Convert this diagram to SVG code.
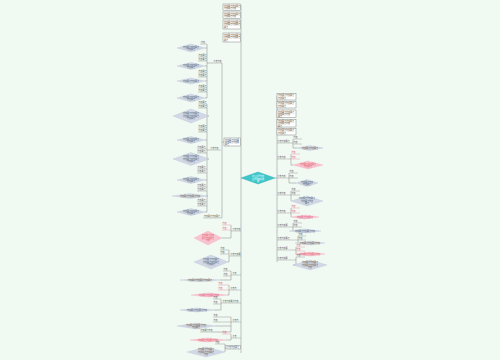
<svg xmlns="http://www.w3.org/2000/svg" width="500" height="360" viewBox="0 0 500 360">
<style>
.bg{fill:#f0f9f2}
.ln{stroke:#8a8a8a;stroke-width:0.5;fill:none}
.ul{stroke:#888;stroke-width:0.4}
.ulp{stroke:#e88aa0;stroke-width:0.4}
.g{fill:#d2d8e6;stroke:#b4bccf;stroke-width:0.3}
.p{fill:#f8c4d0;stroke:#f0a2b6;stroke-width:0.3}
.c{fill:#3fc6c9;stroke:#2aa9ad;stroke-width:0.4}
.bx{fill:#ffffff;stroke:#7a7a7a;stroke-width:0.45}
.t{font-family:"Noto Sans CJK SC","Liberation Sans",sans-serif;font-size:2px;fill:#555}
.tp{font-family:"Noto Sans CJK SC","Liberation Sans",sans-serif;font-size:2px;fill:#e0506e}
.tw{font-family:"Noto Sans CJK SC","Liberation Sans",sans-serif;font-size:2px;fill:#ffffff}
.tm{text-anchor:middle}
</style>
<rect class="bg" x="0" y="0" width="500" height="360"/>

<g id="connectors">
<path class="ln" d="M241,5V353"/>
<path class="ln" d="M275,178H277M277,96V262"/>
<path class="ln" d="M221,63H222V218M222,142H224"/>
<path class="ln" d="M213,63H207M207,44V98"/>
<path class="ln" d="M205,48H207M205,66H207M205,81H207M205,98H207"/>
<path class="ln" d="M210,150H207M207,104V212"/>
<path class="ln" d="M209,116H207M205,140H207M209,159H207M205,180H207M208,196H207M205,212H207"/>
<path class="ln" d="M232,231H231M231,225V238M222,238H231"/>
<path class="ln" d="M230,256H229M229,250V262M228,262H229"/>
<path class="ln" d="M232,275H231M231,271V280M220,280H231"/>
<path class="ln" d="M230,290H229M229,285V295M227,295H229"/>
<path class="ln" d="M222,303H221M221,299V310M214,310H221"/>
<path class="ln" d="M232,322H231M231,317V332M215,326H231M212,332H231"/>
<path class="ln" d="M232,338H231M231,334V340M226,340H231"/>
<path class="ln" d="M226,348H225M225,344V352"/>
<path class="ln" d="M292,143H293M293,139V148M297,148H293"/>
<path class="ln" d="M290,159H291M291,154V165M293,165H291"/>
<path class="ln" d="M288,178H289M289,173V183M296,183H289"/>
<path class="ln" d="M290,195H291M291,191V201"/>
<path class="ln" d="M290,213H291M291,208V217"/>
<path class="ln" d="M292,227H293M293,223V231"/>
<path class="ln" d="M297,240H298M298,236V243"/>
<path class="ln" d="M295,250H296M296,247V254"/>
<path class="ln" d="M295,260H296M296,257V265H293"/>
</g>

<g id="center">
<polygon class="c" points="241,178 258,172 275,178 258,184"/>
<text class="tw tm" x="258" y="177">中心主题内容</text>
<text class="tw tm" x="258" y="179.5">主题内容总结</text>
<text class="tw tm" x="258" y="182">要</text>
</g>

<g id="lbox1"><rect class="bx" x="223" y="4" width="17.5" height="6.5"/><text class="t" x="224" y="6.9">内容要点内容要点</text><text class="t" x="224" y="9.3">内容要点内容</text></g>
<g id="lbox2"><rect class="bx" x="223" y="12" width="17.5" height="6.5"/><text class="t" x="224" y="14.9">内容要点内容要点</text><text class="t" x="224" y="17.3">内容要点内容</text></g>
<g id="lbox3"><rect class="bx" x="223" y="20" width="17.5" height="9"/><text class="t" x="224" y="22.8">内容要点内容要点</text><text class="t" x="224" y="25.2">内容要点内容要点</text><text class="t" x="224" y="27.6">要点</text></g>
<g id="lbox4"><rect class="bx" x="223" y="33" width="17.5" height="9"/><text class="t" x="224" y="35.8">内容要点内容要点</text><text class="t" x="224" y="38.2">内容要点内容要点</text><text class="t" x="224" y="40.6">要点</text></g>
<g id="lboxC"><rect class="bx" x="224" y="138" width="16.5" height="8"/><text class="t" x="225" y="140.6">内容要点内容要</text><text class="t" x="225" y="142.8">内容要点内容要</text><text class="t" x="225" y="145">要点</text></g>

<g id="nodeA"><text class="t" x="213.5" y="62.3">分支内容</text><line class="ul" x1="213" y1="63" x2="221" y2="63"/></g>
<g id="a1"><text class="t" x="201" y="43.4">内容</text><line class="ul" x1="200" y1="44" x2="207" y2="44"/><polygon class="g" points="177,48 191,44 205,48 191,52"/><text class="t tm" x="191" y="47.6">内容要点内容要点</text><text class="t tm" x="191" y="49.8">内容要点</text></g>
<g id="a2"><text class="t" x="198.5" y="56.4">内容要点</text><line class="ul" x1="198" y1="57" x2="207" y2="57"/><text class="t" x="198.5" y="60.4">内容要点</text><line class="ul" x1="198" y1="61" x2="207" y2="61"/><polygon class="g" points="177,66 191,62.5 205,66 191,69.5"/><text class="t tm" x="191" y="65.6">内容要点内容要点</text><text class="t tm" x="191" y="67.8">内容要点</text></g>
<g id="a3"><text class="t" x="198.5" y="72.4">内容要点</text><line class="ul" x1="198" y1="73" x2="207" y2="73"/><text class="t" x="198.5" y="76.4">内容要点</text><line class="ul" x1="198" y1="77" x2="207" y2="77"/><polygon class="g" points="177,81 191,78 205,81 191,84"/><text class="t tm" x="191" y="81.7">内容要点内容要点</text></g>
<g id="a4"><text class="t" x="198.5" y="87.4">内容要点</text><line class="ul" x1="198" y1="88" x2="207" y2="88"/><text class="t" x="198.5" y="91.4">内容要点</text><line class="ul" x1="198" y1="92" x2="207" y2="92"/><polygon class="g" points="177,98 191,94 205,98 191,102"/><text class="t tm" x="191" y="97.6">内容要点内容要点</text><text class="t tm" x="191" y="99.8">内容要点</text></g>

<g id="nodeB"><text class="t" x="210.5" y="149.3">分支内容</text><line class="ul" x1="210" y1="150" x2="221" y2="150"/></g>
<g id="b1"><text class="t" x="198.5" y="103.4">内容要点</text><line class="ul" x1="198" y1="104" x2="207" y2="104"/><text class="t" x="198.5" y="107.4">内容要点</text><line class="ul" x1="198" y1="108" x2="207" y2="108"/><polygon class="g" points="173,116 191,109 209,116 191,123"/><text class="t tm" x="191" y="114.4">内容要点内容要点</text><text class="t tm" x="191" y="116.6">内容要点内容要点</text><text class="t tm" x="191" y="118.8">内容要点</text></g>
<g id="b2"><text class="t" x="198.5" y="127.4">内容要点</text><line class="ul" x1="198" y1="128" x2="207" y2="128"/><text class="t" x="198.5" y="131.4">内容要点</text><line class="ul" x1="198" y1="132" x2="207" y2="132"/><polygon class="g" points="177,140 191,136.5 205,140 191,143.5"/><text class="t tm" x="191" y="139.6">内容要点内容要点</text><text class="t tm" x="191" y="141.8">内容要点</text></g>
<g id="b3"><text class="t" x="197.5" y="148.4">内容要点</text><line class="ul" x1="197" y1="149" x2="207" y2="149"/><text class="t" x="197.5" y="152.4">内容要点</text><line class="ul" x1="197" y1="153" x2="207" y2="153"/><polygon class="g" points="173,159 191,152.5 209,159 191,165.5"/><text class="t tm" x="191" y="157.4">内容要点内容要点</text><text class="t tm" x="191" y="159.6">内容要点内容要点</text><text class="t tm" x="191" y="161.8">内容要点</text></g>
<g id="b4"><text class="t" x="197.5" y="168.4">内容要点</text><line class="ul" x1="197" y1="169" x2="207" y2="169"/><text class="t" x="197.5" y="172.4">内容要点</text><line class="ul" x1="197" y1="173" x2="207" y2="173"/><polygon class="g" points="177,180 191,176.5 205,180 191,183.5"/><text class="t tm" x="191" y="179.6">内容要点内容要点</text><text class="t tm" x="191" y="181.8">内容要点</text></g>
<g id="b5"><text class="t" x="197.5" y="186.4">内容要点</text><line class="ul" x1="197" y1="187" x2="207" y2="187"/><text class="t" x="197.5" y="190.4">内容要点</text><line class="ul" x1="197" y1="191" x2="207" y2="191"/><polygon class="g" points="172,196 190,193.5 208,196 190,198.5"/><text class="t tm" x="190" y="196.7">内容要点内容要点内容</text></g>
<g id="b6"><text class="t" x="197.5" y="201.4">内容要点</text><line class="ul" x1="197" y1="202" x2="207" y2="202"/><text class="t" x="197.5" y="205.4">内容要点</text><line class="ul" x1="197" y1="206" x2="207" y2="206"/><polygon class="g" points="177,212 191,208.5 205,212 191,215.5"/><text class="t tm" x="191" y="211.6">内容要点内容要点</text><text class="t tm" x="191" y="213.8">内容要点</text></g>
<g id="nodeD"><text class="t" x="204" y="217.4">内容要点内容要点</text><line class="ul" x1="203" y1="218" x2="222" y2="218"/></g>

<g id="L1"><text class="t" x="232.5" y="230.3">分支内容</text><line class="ul" x1="232" y1="231" x2="241" y2="231"/><text class="tp" x="222.5" y="224.4">内容</text><line class="ulp" x1="222" y1="225" x2="231" y2="225"/><text class="tp" x="222.5" y="229.4">内容</text><line class="ulp" x1="222" y1="230" x2="231" y2="230"/><polygon class="p" points="194,238 208,231 222,238 208,245"/><text class="tp tm" x="208" y="236.4">内容要点内容</text><text class="tp tm" x="208" y="238.6">要点内容要点</text><text class="tp tm" x="208" y="240.8">内容</text></g>
<g id="L2"><text class="t" x="230.5" y="255.3">分支内容要</text><line class="ul" x1="230" y1="256" x2="241" y2="256"/><text class="t" x="220.5" y="249.4">内容</text><line class="ul" x1="220" y1="250" x2="229" y2="250"/><text class="t" x="220.5" y="253.4">内容</text><line class="ul" x1="220" y1="254" x2="229" y2="254"/><polygon class="g" points="194,262 211,255 228,262 211,269"/><text class="t tm" x="211" y="260.4">内容要点内容要点</text><text class="t tm" x="211" y="262.6">内容要点内容要点</text><text class="t tm" x="211" y="264.8">内容要点</text></g>
<g id="L3"><text class="t" x="232.5" y="274.3">分支</text><line class="ul" x1="232" y1="275" x2="241" y2="275"/><text class="t" x="223.5" y="270.4">内容</text><line class="ul" x1="223" y1="271" x2="231" y2="271"/><text class="t" x="223.5" y="275.4">内容</text><line class="ul" x1="223" y1="276" x2="231" y2="276"/><polygon class="g" points="180,280 200,278.5 220,280 200,281.5"/><text class="t tm" x="200" y="280.7">内容要点内容要点内容要点</text></g>
<g id="L4"><text class="t" x="230.5" y="289.3">分支内</text><line class="ul" x1="230" y1="290" x2="241" y2="290"/><text class="tp" x="218.5" y="284.4">内容</text><line class="ulp" x1="218" y1="285" x2="229" y2="285"/><text class="tp" x="218.5" y="289.4">内容</text><line class="ulp" x1="218" y1="290" x2="229" y2="290"/><polygon class="p" points="191,295 209,293 227,295 209,297"/><text class="tp tm" x="209" y="295.7">内容要点内容要点内容</text></g>
<g id="L5"><text class="t" x="222.5" y="302.3">分支内容要点内容</text><line class="ul" x1="222" y1="303" x2="241" y2="303"/><text class="t" x="213.5" y="298.4">内容</text><line class="ul" x1="213" y1="299" x2="221" y2="299"/><text class="t" x="213.5" y="303.4">内容</text><line class="ul" x1="213" y1="304" x2="221" y2="304"/><polygon class="g" points="180,310 197,308 214,310 197,312"/><text class="t tm" x="197" y="310.7">内容要点内容要点内容</text></g>
<g id="L6"><text class="t" x="232.5" y="321.3">分支内</text><line class="ul" x1="232" y1="322" x2="241" y2="322"/><text class="t" x="213.5" y="316.4">内容</text><line class="ul" x1="213" y1="317" x2="231" y2="317"/><text class="t" x="213.5" y="321.4">内容</text><line class="ul" x1="213" y1="322" x2="231" y2="322"/><polygon class="g" points="177,326 196,323 215,326 196,329"/><text class="t tm" x="196" y="325.6">内容要点内容要点内容</text><text class="t tm" x="196" y="327.8">内容要点</text><text class="t" x="200.5" y="331.4">内容要点内容</text><line class="ul" x1="200" y1="332" x2="212" y2="332"/></g>
<g id="L7"><text class="t" x="232.5" y="337.3">分支</text><line class="ul" x1="232" y1="338" x2="241" y2="338"/><text class="tp" x="222.5" y="333.4">内容</text><line class="ulp" x1="222" y1="334" x2="231" y2="334"/><polygon class="p" points="190,340 208,338 226,340 208,342"/><text class="tp tm" x="208" y="340.7">内容要点内容要点内容</text></g>
<g id="L8"><rect class="bx" x="226" y="345.5" width="14.5" height="3.5"/><text class="t" x="227" y="348">分支内容要点</text><text class="t" x="215.5" y="343.4">内容</text><line class="ul" x1="215" y1="344" x2="225" y2="344"/><polygon class="g" points="187,352 206,347 225,352 206,357"/><text class="t tm" x="206" y="350.4">内容要点内容要点</text><text class="t tm" x="206" y="352.6">内容要点内容要点</text><text class="t tm" x="206" y="354.8">内容</text></g>

<g id="rbox1"><rect class="bx" x="277" y="93.5" width="19" height="6.5"/><text class="t" x="278" y="96.4">内容要点内容要点</text><text class="t" x="278" y="98.8">内容要点</text></g>
<g id="rbox2"><rect class="bx" x="277" y="101.5" width="19" height="6.5"/><text class="t" x="278" y="104.4">内容要点内容要点</text><text class="t" x="278" y="106.8">内容要点</text></g>
<g id="rbox3"><rect class="bx" x="277" y="110" width="19" height="7.5"/><text class="t" x="278" y="112.6">内容要点内容要点</text><text class="t" x="278" y="114.8">内容要点内容</text><text class="t" x="278" y="117">要点</text></g>
<g id="rbox4"><rect class="bx" x="277" y="119.5" width="19" height="7.5"/><text class="t" x="278" y="122.1">内容要点内容要点</text><text class="t" x="278" y="124.3">内容要点内容</text><text class="t" x="278" y="126.5">要点</text></g>
<g id="rbox5"><rect class="bx" x="277" y="128.5" width="19" height="6.5"/><text class="t" x="278" y="131.4">内容要点内容要点</text><text class="t" x="278" y="133.8">内容要点</text></g>

<g id="R1"><text class="t" x="277.5" y="142.3">分支内容要点</text><line class="ul" x1="277" y1="143" x2="292" y2="143"/><text class="t" x="293.5" y="138.4">内容</text><line class="ul" x1="293" y1="139" x2="302" y2="139"/><text class="t" x="293.5" y="143.4">内容</text><line class="ul" x1="293" y1="144" x2="302" y2="144"/><polygon class="g" points="297,148 310,145.5 323,148 310,150.5"/><text class="t tm" x="310" y="148.7">内容要点内容要点</text></g>
<g id="R2"><text class="t" x="277.5" y="158.3">分支内容</text><line class="ul" x1="277" y1="159" x2="290" y2="159"/><text class="tp" x="291.5" y="153.4">内容</text><line class="ulp" x1="291" y1="154" x2="300" y2="154"/><text class="tp" x="291.5" y="158.4">内容</text><line class="ulp" x1="291" y1="159" x2="300" y2="159"/><polygon class="p" points="293,165 308,161 323,165 308,169"/><text class="tp tm" x="308" y="164.6">内容要点内容要点</text><text class="tp tm" x="308" y="166.8">内容要点</text></g>
<g id="R3"><text class="t" x="277.5" y="177.3">分支内容</text><line class="ul" x1="277" y1="178" x2="288" y2="178"/><text class="t" x="289.5" y="172.4">内容</text><line class="ul" x1="289" y1="173" x2="298" y2="173"/><text class="t" x="289.5" y="177.4">内容</text><line class="ul" x1="289" y1="178" x2="298" y2="178"/><polygon class="g" points="296,183 307,179.5 318,183 307,186.5"/><text class="t tm" x="307" y="182.6">内容要点内容</text><text class="t tm" x="307" y="184.8">内容要点</text></g>
<g id="R4"><text class="t" x="277.5" y="194.3">分支内容</text><line class="ul" x1="277" y1="195" x2="290" y2="195"/><text class="t" x="291.5" y="190.4">内容</text><line class="ul" x1="291" y1="191" x2="300" y2="191"/><text class="t" x="291.5" y="194.4">内容</text><line class="ul" x1="291" y1="195" x2="300" y2="195"/><polygon class="g" points="291,201 307,196 323,201 307,206"/><text class="t tm" x="307" y="199.4">内容要点内容要点</text><text class="t tm" x="307" y="201.6">内容要点内容</text><text class="t tm" x="307" y="203.8">要点</text></g>
<g id="R5"><text class="t" x="277.5" y="212.3">分支内容</text><line class="ul" x1="277" y1="213" x2="290" y2="213"/><text class="tp" x="291.5" y="207.4">内容</text><line class="ulp" x1="291" y1="208" x2="300" y2="208"/><text class="tp" x="291.5" y="212.4">内容</text><line class="ulp" x1="291" y1="213" x2="300" y2="213"/><polygon class="p" points="291,217 305,215 319,217 305,219"/><text class="tp tm" x="305" y="217.7">内容要点内容要点</text></g>
<g id="R6"><text class="t" x="277.5" y="226.3">分支内容要</text><line class="ul" x1="277" y1="227" x2="292" y2="227"/><text class="t" x="293.5" y="222.4">内容</text><line class="ul" x1="293" y1="223" x2="302" y2="223"/><text class="t" x="293.5" y="226.4">内容</text><line class="ul" x1="293" y1="227" x2="302" y2="227"/><polygon class="g" points="289,231 305,229 321,231 305,233"/><text class="t tm" x="305" y="231.7">内容要点内容要点内容</text></g>
<g id="R7"><text class="t" x="277.5" y="239.3">分支内容要点</text><line class="ul" x1="277" y1="240" x2="297" y2="240"/><text class="t" x="298.5" y="235.4">内容</text><line class="ul" x1="298" y1="236" x2="306" y2="236"/><text class="t" x="298.5" y="239.4">内容</text><line class="ul" x1="298" y1="240" x2="306" y2="240"/><polygon class="g" points="295,243 310,241 325,243 310,245"/><text class="t tm" x="310" y="243.7">内容要点内容要点内容</text></g>
<g id="R8"><text class="t" x="277.5" y="249.3">分支内容要</text><line class="ul" x1="277" y1="250" x2="295" y2="250"/><text class="tp" x="296.5" y="246.4">内容</text><line class="ulp" x1="296" y1="247" x2="305" y2="247"/><text class="tp" x="296.5" y="250.4">内容</text><line class="ulp" x1="296" y1="251" x2="305" y2="251"/><polygon class="p" points="295,254 310,252 325,254 310,256"/><text class="tp tm" x="310" y="254.7">内容要点内容要点内容</text></g>
<g id="R9"><text class="t" x="277.5" y="259.3">分支内容要</text><line class="ul" x1="277" y1="260" x2="295" y2="260"/><text class="t" x="296.5" y="256.4">内容</text><line class="ul" x1="296" y1="257" x2="305" y2="257"/><polygon class="g" points="293,265 310,260 327,265 310,270"/><text class="t tm" x="310" y="263.4">内容要点内容要点</text><text class="t tm" x="310" y="265.6">内容要点内容要点</text><text class="t tm" x="310" y="267.8">内容</text></g>
</svg>
